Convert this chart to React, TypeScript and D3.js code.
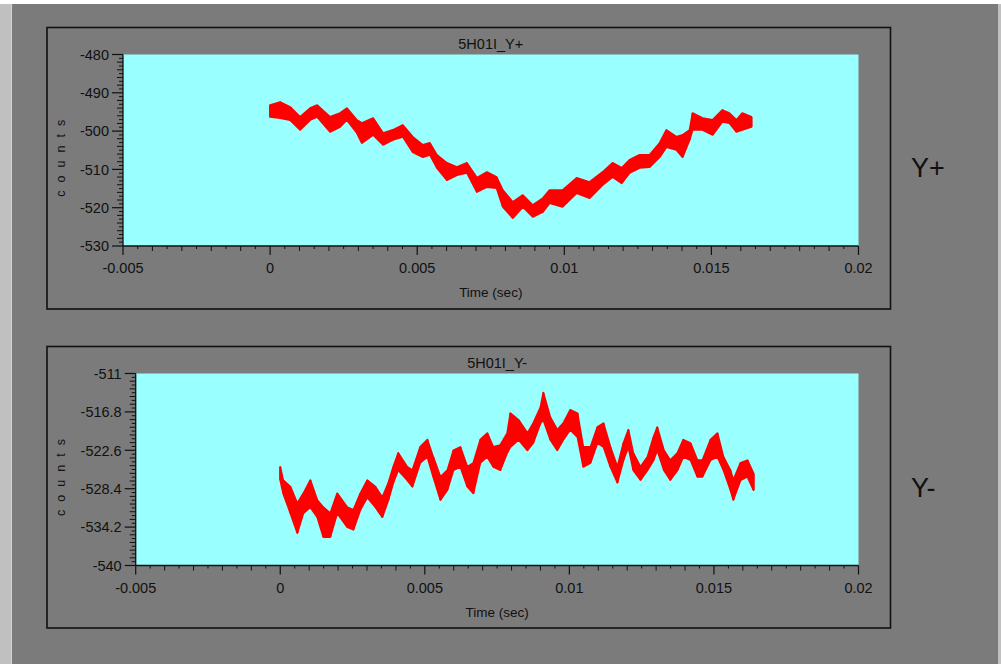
import React from 'react';
import * as d3 from 'd3';

// ---------- data ----------
const X_TICKS = [-0.005, 0, 0.005, 0.01, 0.015, 0.02];
const X_TICK_LABELS = ['-0.005', '0', '0.005', '0.01', '0.015', '0.02'];

const Y1_TICKS = [-480, -490, -500, -510, -520, -530];
const Y1_TICK_LABELS = ['-480', '-490', '-500', '-510', '-520', '-530'];
const Y2_TICKS = [-511, -516.8, -522.6, -528.4, -534.2, -540];
const Y2_TICK_LABELS = ['-511', '-516.8', '-522.6', '-528.4', '-534.2', '-540'];

const TITLES = ['5H01I_Y+', '5H01I_Y-'];
const SIDE_LABELS = ['Y+', 'Y-'];

// Y+ trace : time (ms), upper and lower envelope (counts)
const TIME1_MS = [0, 0.34, 0.68, 1.02, 1.36, 1.6, 2.04, 2.38, 2.61, 2.95, 3.12, 3.5, 3.84, 4.17, 4.51, 4.85, 5.19, 5.43, 5.67, 6.01, 6.35, 6.69, 7.03, 7.37, 7.7, 7.91, 8.25, 8.59, 8.93, 9.27, 9.5, 9.94, 10.42, 10.86, 11.3, 11.64, 11.95, 12.22, 12.56, 12.9, 13.24, 13.47, 13.81, 14.02, 14.26, 14.36, 14.7, 15.04, 15.37, 15.61, 15.85, 16.05, 16.36];
const HI1 = [-493.2, -492.4, -493.7, -496.3, -494.0, -493.2, -496.3, -495.3, -494.0, -497.1, -497.9, -496.6, -500.5, -499.7, -498.4, -501.5, -503.6, -503.1, -506.2, -508.3, -509.4, -508.3, -512.2, -510.7, -512.0, -515.4, -518.5, -516.7, -519.3, -517.5, -515.4, -515.4, -512.2, -513.3, -510.7, -508.3, -509.6, -507.5, -506.2, -506.2, -503.1, -499.7, -501.5, -501.0, -499.7, -495.3, -496.6, -497.1, -494.5, -495.3, -497.1, -495.3, -496.3];
const LO1 = [-496.3, -496.6, -497.1, -499.7, -497.1, -496.3, -500.2, -498.9, -497.1, -500.5, -503.1, -501.0, -503.6, -502.3, -501.5, -505.5, -506.8, -506.2, -509.6, -512.8, -511.5, -510.9, -515.9, -514.6, -514.9, -519.8, -522.7, -519.8, -522.4, -521.1, -518.8, -519.8, -516.2, -517.5, -514.1, -512.0, -513.6, -510.9, -509.6, -509.4, -506.8, -504.2, -504.9, -506.8, -502.3, -499.7, -499.7, -501.0, -497.6, -497.9, -500.2, -499.7, -498.9];

// Y- trace : time (ms), upper and lower envelope (counts)
const TIME2_MS = [0, 0.1, 0.35, 0.59, 0.8, 1.04, 1.28, 1.49, 1.73, 1.97, 2.32, 2.53, 2.77, 3.01, 3.29, 3.53, 3.74, 3.91, 4.08, 4.39, 4.57, 4.84, 5.09, 5.29, 5.54, 5.78, 5.99, 6.23, 6.47, 6.68, 6.92, 7.16, 7.37, 7.61, 7.85, 7.96, 8.24, 8.55, 8.75, 9.0, 9.1, 9.34, 9.58, 9.79, 10.03, 10.28, 10.48, 10.73, 10.97, 11.18, 11.42, 11.66, 11.87, 12.04, 12.21, 12.46, 12.7, 12.91, 13.04, 13.27, 13.49, 13.74, 13.94, 14.19, 14.43, 14.6, 14.88, 15.12, 15.33, 15.57, 15.67, 15.92, 16.16, 16.37];
const HI2 = [-525.1, -527.1, -528.1, -530.6, -529.1, -527.1, -530.1, -531.2, -532.1, -529.1, -531.2, -531.6, -529.1, -527.1, -528.1, -529.7, -527.5, -525.1, -523.0, -525.1, -525.6, -522.1, -521.0, -523.6, -526.6, -525.6, -522.6, -522.1, -525.1, -524.5, -521.0, -520.0, -522.1, -521.8, -520.0, -517.0, -518.0, -520.0, -518.5, -516.1, -513.9, -517.6, -519.5, -518.5, -516.5, -517.0, -522.1, -522.1, -519.1, -518.5, -522.1, -525.1, -521.5, -519.5, -523.0, -525.1, -523.6, -520.6, -519.1, -522.6, -524.1, -523.0, -521.0, -521.5, -524.1, -524.1, -521.0, -520.0, -523.6, -525.6, -527.1, -524.5, -524.1, -526.1];
const LO2 = [-527.1, -529.1, -532.1, -535.1, -532.1, -531.2, -532.7, -535.7, -535.7, -532.1, -534.2, -534.6, -531.6, -529.7, -531.2, -532.7, -530.1, -527.5, -525.6, -527.1, -528.1, -524.5, -523.6, -526.6, -530.1, -528.6, -525.6, -525.1, -528.1, -529.1, -524.5, -523.6, -525.1, -525.6, -523.0, -522.1, -521.0, -522.6, -521.5, -518.5, -518.0, -521.0, -522.6, -521.0, -519.5, -520.6, -525.1, -524.5, -521.5, -522.1, -525.1, -527.5, -524.1, -522.1, -525.6, -527.1, -525.6, -524.1, -522.6, -525.6, -527.1, -525.6, -523.6, -524.1, -526.6, -526.6, -524.1, -523.6, -525.6, -528.6, -530.1, -527.1, -526.6, -528.6];

// ---------- styling ----------
const GRAY = '#7b7b7b';
const CYAN = '#99ffff';
const INK = '#111111';
const FONT = '"Liberation Sans", Arial, sans-serif';

interface PanelProps {
  frame: { x0: number; y0: number; x1: number; y1: number };
  plot: { x0: number; y0: number; x1: number; y1: number };
  yTicks: number[];
  yTickLabels: string[];
  title: string;
  timeMs: number[];
  hi: number[];
  lo: number[];
  side: string;
  sideX: number;
  sideY: number;
}

function Panel(p: PanelProps) {
  const { frame, plot } = p;
  const x = d3.scaleLinear().domain([X_TICKS[0], X_TICKS[X_TICKS.length - 1]]).range([plot.x0, plot.x1]);
  const y = d3.scaleLinear().domain([p.yTicks[0], p.yTicks[p.yTicks.length - 1]]).range([plot.y0, plot.y1]);

  const xMinor: { v: number; mid: boolean }[] = [];
  for (let i = 0; i < X_TICKS.length - 1; i++) {
    const a = X_TICKS[i], b = X_TICKS[i + 1];
    for (let k = 1; k < 10; k++) xMinor.push({ v: a + ((b - a) * k) / 10, mid: k % 2 === 0 });
  }
  const yMinor: { v: number; mid: boolean }[] = [];
  for (let i = 0; i < p.yTicks.length - 1; i++) {
    const a = p.yTicks[i], b = p.yTicks[i + 1];
    for (let k = 1; k < 10; k++) yMinor.push({ v: a + ((b - a) * k) / 10, mid: k % 2 === 0 });
  }

  const pts = p.timeMs.map((t, i) => ({ t: t / 1000, hi: p.hi[i], lo: p.lo[i] }));
  const area = d3
    .area<{ t: number; hi: number; lo: number }>()
    .x((d) => x(d.t))
    .y0((d) => y(d.lo))
    .y1((d) => y(d.hi))
    .curve(d3.curveLinear)(pts) as string;

  const strokes = pts.map((d, i) => (
    <line key={i} x1={x(d.t)} x2={x(d.t)} y1={y(d.hi)} y2={y(d.lo)} stroke="#ff0000" strokeWidth={2} />
  ));

  const cx = (plot.x0 + plot.x1) / 2;
  const cy = (plot.y0 + plot.y1) / 2;

  return (
    <g>
      <rect x={frame.x0} y={frame.y0} width={frame.x1 - frame.x0} height={frame.y1 - frame.y0} fill="none" stroke={INK} strokeWidth={1.6} />
      <rect x={plot.x0} y={plot.y0} width={plot.x1 - plot.x0} height={plot.y1 - plot.y0} fill={CYAN} />
      <path d={area} fill="#ff0000" stroke="#ff0000" strokeWidth={1.8} strokeLinejoin="round" />
      {strokes}
      <line x1={plot.x0} x2={plot.x0} y1={plot.y0} y2={plot.y1} stroke={INK} strokeWidth={1.3} />
      <line x1={plot.x0} x2={plot.x1} y1={plot.y1} y2={plot.y1} stroke={INK} strokeWidth={1.3} />
      {p.yTicks.map((v, i) => (
        <g key={'yt' + i}>
          <line x1={plot.x0 - 11} x2={plot.x0} y1={y(v)} y2={y(v)} stroke={INK} strokeWidth={1.2} />
          <text x={plot.x0 - 14} y={y(v)} dy="0.36em" textAnchor="end" fontFamily={FONT} fontSize={14.5} fill={INK}>
            {p.yTickLabels[i]}
          </text>
        </g>
      ))}
      {yMinor.map((m, i) => (
        <line key={'ym' + i} x1={plot.x0 - (m.mid ? 6 : 4)} x2={plot.x0} y1={y(m.v)} y2={y(m.v)} stroke={INK} strokeWidth={1} />
      ))}
      {X_TICKS.map((v, i) => (
        <g key={'xt' + i}>
          <line x1={x(v)} x2={x(v)} y1={plot.y1} y2={plot.y1 + 9} stroke={INK} strokeWidth={1.2} />
          <text x={x(v)} y={plot.y1 + 27} textAnchor="middle" fontFamily={FONT} fontSize={14.5} fill={INK}>
            {X_TICK_LABELS[i]}
          </text>
        </g>
      ))}
      {xMinor.map((m, i) => (
        <line key={'xm' + i} x1={x(m.v)} x2={x(m.v)} y1={plot.y1} y2={plot.y1 + (m.mid ? 5 : 3)} stroke={INK} strokeWidth={1} />
      ))}
      <text x={cx} y={plot.y0 - 6} textAnchor="middle" fontFamily={FONT} fontSize={14.5} fill={INK}>
        {p.title}
      </text>
      <text x={cx} y={plot.y1 + 51} textAnchor="middle" fontFamily={FONT} fontSize={13.5} fill={INK}>
        Time (sec)
      </text>
      <text
        transform={`translate(${frame.x0 + 18},${cy + 4}) rotate(-90)`}
        textAnchor="middle"
        fontFamily={FONT}
        fontSize={12.5}
        letterSpacing={8}
        fill={INK}
      >
        counts
      </text>
      <text x={p.sideX} y={p.sideY} fontFamily={FONT} fontSize={27} fill={INK}>
        {p.side}
      </text>
    </g>
  );
}

export default function App() {
  return (
    <svg width={1001} height={664} style={{ position: 'absolute', left: 0, top: 0, display: 'block' }}>
      <rect x={0} y={0} width={1001} height={664} fill="#ffffff" />
      <rect x={0} y={4} width={1001} height={660} fill={GRAY} />
      <rect x={0} y={4} width={11} height={660} fill="#c0c0c0" />
      <rect x={11} y={4} width={1} height={660} fill="#d4d4d4" />
      <rect x={998} y={4} width={3} height={660} fill="#c0c0c0" />
      <Panel
        frame={{ x0: 47, y0: 27.5, x1: 890.5, y1: 309 }}
        plot={{ x0: 123, y0: 54.5, x1: 858.5, y1: 246 }}
        yTicks={Y1_TICKS}
        yTickLabels={Y1_TICK_LABELS}
        title={TITLES[0]}
        timeMs={TIME1_MS}
        hi={HI1}
        lo={LO1}
        side={SIDE_LABELS[0]}
        sideX={911}
        sideY={177}
      />
      <Panel
        frame={{ x0: 47, y0: 346.5, x1: 890.5, y1: 628 }}
        plot={{ x0: 135.7, y0: 373.5, x1: 858.5, y1: 565.5 }}
        yTicks={Y2_TICKS}
        yTickLabels={Y2_TICK_LABELS}
        title={TITLES[1]}
        timeMs={TIME2_MS}
        hi={HI2}
        lo={LO2}
        side={SIDE_LABELS[1]}
        sideX={911}
        sideY={497}
      />
    </svg>
  );
}
